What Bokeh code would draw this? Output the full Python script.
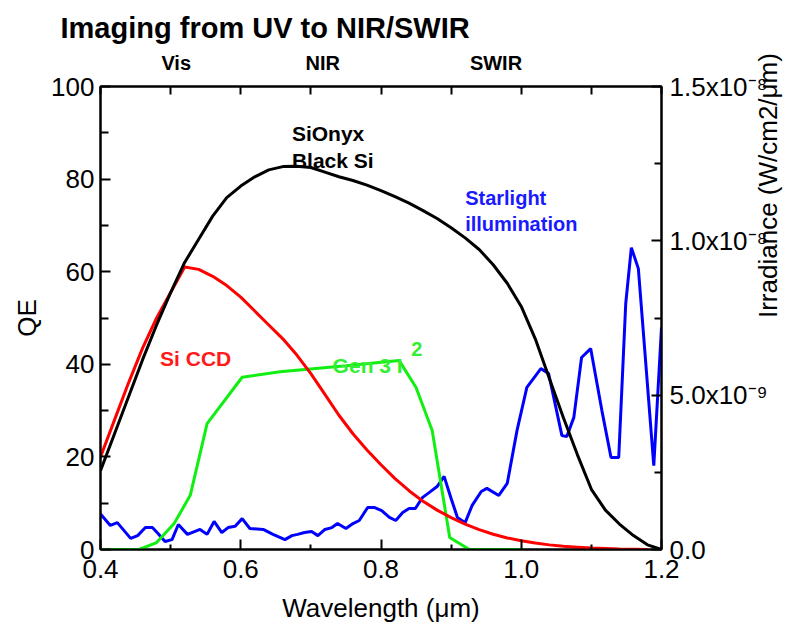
import math
from bokeh.plotting import figure
from bokeh.models import (Range1d, LinearAxis, FixedTicker, PrintfTickFormatter, Label)
from bokeh.embed import file_html
from bokeh.resources import INLINE

# ---------------- data ----------------
wl_sionyx = [0.40, 0.42, 0.44, 0.46, 0.48, 0.50, 0.52, 0.54, 0.56, 0.58,
             0.60, 0.62, 0.64, 0.66, 0.68, 0.70, 0.72, 0.74, 0.76, 0.78,
             0.80, 0.82, 0.84, 0.86, 0.88, 0.90, 0.92, 0.94, 0.96, 0.98,
             1.00, 1.02, 1.04, 1.06, 1.08, 1.10, 1.12, 1.14, 1.16, 1.18, 1.20]
qe_sionyx = [17, 25, 33, 41, 48.5, 55.5, 62, 67, 72, 76,
             78.5, 80.5, 82, 82.7, 82.8, 82.5, 81.5, 80.5, 79.7, 78.7,
             77.5, 76.2, 74.8, 73.2, 71.5, 69.5, 67.3, 64.8, 61.5, 57.5,
             52.5, 45.5, 37, 28.5, 20.5, 13, 8.5, 5.5, 3, 1, 0]

wl_ccd = [0.40, 0.42, 0.44, 0.46, 0.48, 0.50, 0.52, 0.54, 0.56, 0.58,
          0.60, 0.62, 0.64, 0.66, 0.68, 0.70, 0.72, 0.74, 0.76, 0.78,
          0.80, 0.82, 0.84, 0.86, 0.88, 0.90, 0.92, 0.94, 0.96, 0.98,
          1.00, 1.02, 1.04, 1.06, 1.08, 1.10, 1.12, 1.14, 1.16, 1.18]
qe_ccd = [20, 28, 36, 43.5, 50, 55.5, 61, 60.5, 59, 57,
          54.5, 51.5, 48.5, 45.5, 42, 38, 33.5, 29, 25, 21.5,
          18.3, 15.3, 12.7, 10.4, 8.5, 6.9, 5.5, 4.3, 3.3, 2.5,
          1.9, 1.4, 1.0, 0.7, 0.5, 0.3, 0.2, 0.1, 0.05, 0]

wl_gen3 = [0.40, 0.455, 0.48, 0.505, 0.528, 0.552, 0.602, 0.656, 0.75,
           0.826, 0.85, 0.873, 0.898, 0.926, 1.00]
qe_gen3 = [0, 0, 1.5, 5.6, 11.7, 27.2, 37.2, 38.4, 39.7,
           40.8, 35, 25.7, 2.6, 0, 0]

# starlight irradiance, in units of 1e-9 W/cm2/um
wl_star = [0.400, 0.414, 0.424, 0.443, 0.453, 0.464, 0.474, 0.482, 0.492, 0.502,
           0.511, 0.524, 0.542, 0.552, 0.562, 0.573, 0.582, 0.592, 0.602, 0.613,
           0.632, 0.646, 0.659, 0.663, 0.673, 0.681, 0.691, 0.701, 0.710, 0.720,
           0.730, 0.738, 0.750, 0.760, 0.769, 0.781, 0.791, 0.801, 0.812, 0.821,
           0.831, 0.840, 0.849, 0.859, 0.869, 0.880, 0.890, 0.900, 0.909, 0.920,
           0.930, 0.943, 0.951, 0.968, 0.980, 0.994, 1.008, 1.028, 1.039, 1.058,
           1.065, 1.075, 1.086, 1.099, 1.115, 1.128, 1.139, 1.149, 1.157, 1.167,
           1.189, 1.200]
irr_star = [1.15, 0.78, 0.87, 0.36, 0.45, 0.71, 0.71, 0.52, 0.26, 0.32,
            0.81, 0.49, 0.65, 0.49, 0.91, 0.55, 0.71, 0.75, 1.00, 0.68,
            0.65, 0.49, 0.36, 0.32, 0.45, 0.49, 0.55, 0.58, 0.45, 0.65,
            0.71, 0.84, 0.68, 0.84, 0.94, 1.36, 1.36, 1.26, 1.04, 0.94,
            1.20, 1.33, 1.33, 1.68, 1.85, 2.04, 2.37, 1.65, 1.04, 0.87,
            1.43, 1.88, 1.98, 1.75, 2.14, 3.86, 5.25, 5.86, 5.70, 3.69,
            3.66, 4.28, 6.22, 6.51, 4.50, 2.98, 2.98, 7.97, 9.78, 9.10,
            2.72, 7.20]

x_ticks = [0.4, 0.6, 0.8, 1.0, 1.2]
x_minor = [0.5, 0.7, 0.9, 1.1]
band_pos = [0.508, 0.717, 0.964]
band_names = ["Vis", "NIR", "SWIR"]
qe_ticks = [0, 20, 40, 60, 80, 100]
qe_minor = [10, 30, 50, 70, 90]
irr_ticks = [0, 5, 10, 15]
irr_minor = [2.5, 7.5, 12.5]
irr_labels = {0: "0.0", 5: "5.0x10\u207b\u2079", 10: "1.0x10\u207b\u2078", 15: "1.5x10\u207b\u2078"}

FONT = "Liberation Sans"

p = figure(width=800, height=640, x_range=Range1d(0.4, 1.2), y_range=Range1d(0, 100),
           output_backend="svg", toolbar_location=None,
           min_border_left=100, min_border_right=137, min_border_top=86, min_border_bottom=91)
p.extra_y_ranges = {"irr": Range1d(0, 15)}
p.xgrid.visible = False
p.ygrid.visible = False
p.outline_line_color = "black"
p.outline_line_width = 2
p.background_fill_color = "white"
p.border_fill_color = "white"

xa = p.below[0]
ya = p.left[0]

top_ticks = LinearAxis()
right_axis = LinearAxis(y_range_name="irr")
p.add_layout(top_ticks, "above")
p.add_layout(right_axis, "right")


def style(ax):
    ax.axis_line_width = 2
    ax.axis_line_color = "black"
    ax.major_tick_line_width = 2
    ax.minor_tick_line_width = 2
    ax.major_tick_line_color = "black"
    ax.minor_tick_line_color = "black"
    ax.major_tick_in = 10
    ax.major_tick_out = 0
    ax.minor_tick_in = 5
    ax.minor_tick_out = 0
    ax.major_label_text_font = FONT
    ax.major_label_text_font_size = "26px"
    ax.major_label_text_color = "black"
    ax.axis_label_text_font = FONT
    ax.axis_label_text_font_style = "normal"
    ax.axis_label_text_font_size = "26px"
    ax.axis_label_text_color = "black"


for ax in (xa, ya, top_ticks, right_axis):
    style(ax)

xa.ticker = FixedTicker(ticks=x_ticks, minor_ticks=x_minor)
xa.formatter = PrintfTickFormatter(format="%.1f")
xa.major_label_standoff = 10
xa.axis_label = "Wavelength (\u03bcm)"
xa.axis_label_standoff = 12

# top axis carries the tick marks (drawn as minor ticks) and the band names
top_ticks.ticker = FixedTicker(ticks=band_pos, minor_ticks=x_ticks + x_minor)
top_ticks.major_label_overrides = dict(zip(band_pos, band_names))
top_ticks.major_tick_in = 0
top_ticks.minor_tick_in = 8
top_ticks.major_label_text_font_size = "20px"
top_ticks.major_label_text_font_style = "bold"
top_ticks.major_label_standoff = 13

ya.ticker = FixedTicker(ticks=qe_ticks, minor_ticks=qe_minor)
ya.minor_tick_in = 8
ya.major_label_standoff = 6
ya.axis_label = "QE"
ya.axis_label_standoff = 6

right_axis.ticker = FixedTicker(ticks=irr_ticks, minor_ticks=irr_minor)
right_axis.major_label_overrides = irr_labels
right_axis.minor_tick_in = 7
right_axis.major_label_standoff = 8
right_axis.axis_label = "Irradiance (W/cm2/\u03bcm)"
right_axis.axis_label_standoff = -3
if hasattr(right_axis, "axis_label_orientation"):
    right_axis.axis_label_orientation = math.pi / 2

p.title.text = "Imaging from UV to NIR/SWIR"
p.title.text_font = FONT
p.title.text_font_size = "29px"
p.title.text_font_style = "bold"
p.title.text_color = "black"
p.title.align = "left"
p.title.offset = -40
p.title.standoff = 9

# curves
p.line(wl_star, irr_star, y_range_name="irr", line_color="#0000ff", line_width=3)
p.line(wl_gen3, qe_gen3, line_color="#11ee11", line_width=3)
p.line(wl_ccd, qe_ccd, line_color="#ff0000", line_width=3)
p.line(wl_sionyx, qe_sionyx, line_color="black", line_width=3)


def lab(x, y, text, color="black", size="21px"):
    p.add_layout(Label(x=x, y=y, text=text, text_color=color, text_font=FONT,
                       text_font_size=size, text_font_style="bold", text_align="left",
                       text_baseline="alphabetic"))


lab(0.673, 89.8, "SiOnyx")
lab(0.673, 84.0, "Black Si")
lab(0.920, 76.0, "Starlight", color="#1a1aff", size="20px")
lab(0.920, 70.4, "illumination", color="#1a1aff", size="20px")
lab(0.485, 41.3, "Si CCD", color="#ff1a1a")
lab(0.731, 39.7, "Gen 3 I", color="#33ee33")
lab(0.843, 43.4, "2", color="#33ee33", size="20px")

open("out.html", "w").write(file_html(p, INLINE))
